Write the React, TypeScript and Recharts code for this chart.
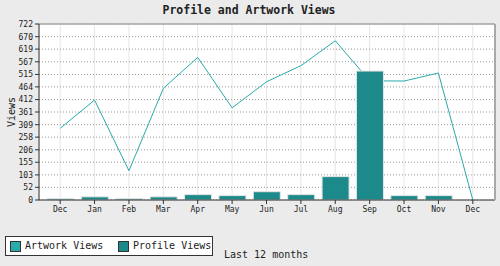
import React from 'react';
import { ComposedChart, Bar, Line, XAxis, YAxis, CartesianGrid, ReferenceLine } from 'recharts';

const months = ['Dec', 'Jan', 'Feb', 'Mar', 'Apr', 'May', 'Jun', 'Jul', 'Aug', 'Sep', 'Oct', 'Nov', 'Dec'];
const artworkViews = [294, 410, 120, 458, 585, 378, 485, 551, 653, 489, 488, 521, 0];
const profileViews = [5, 13, 5, 13, 22, 18, 34, 22, 96, 529, 18, 18, 0];
const yTicks = [0, 52, 103, 155, 206, 258, 309, 361, 412, 464, 515, 567, 619, 670, 722];

const data = months.map((m, i) => ({ key: `${m}-${i}`, month: m, artwork: artworkViews[i], profile: profileViews[i] }));

const FONT = '"DejaVu Sans Mono", monospace';
const LINE_COLOR = '#2aabab';
const BAR_COLOR = '#1c8a8a';

const LineAny = Line as any;
const BarAny = Bar as any;

export default function App() {
  return (
    <div style={{ position: 'absolute', left: 0, top: 0, width: 500, height: 266, background: '#ebebeb', fontFamily: FONT }}>
      <div style={{ position: 'absolute', left: 0, top: 3, width: 498, textAlign: 'center', fontWeight: 'bold', fontSize: 11.5, color: '#222' }}>
        Profile and Artwork Views
      </div>
      <ComposedChart width={500} height={266} data={data} margin={{ top: 24, right: 5, bottom: 36, left: 0 }}>
        <CartesianGrid horizontal={false} vertical={true} stroke="#e6e6e6" fill="#ffffff" />
        <CartesianGrid horizontal={true} vertical={false} stroke="#999999" strokeDasharray="1 2" />
        <XAxis
          dataKey="key"
          height={30}
          tickFormatter={(v: string) => v.split('-')[0]}
          padding={{ left: 4, right: 5 }}
          tick={{ fontSize: 8, fill: '#222', fontFamily: FONT }}
          tickSize={4}
          tickMargin={2}
          axisLine={{ stroke: '#333' }}
          tickLine={{ stroke: '#333' }}
          interval={0}
        />
        <YAxis
          width={39}
          domain={[0, 722]}
          ticks={yTicks}
          interval={0}
          tick={{ fontSize: 8, fill: '#222', fontFamily: FONT }}
          tickSize={4}
          tickMargin={2}
          axisLine={{ stroke: '#333' }}
          tickLine={{ stroke: '#333' }}
          label={{
            content: () => (
              <text x={15} y={112} transform="rotate(-90 15 112)" textAnchor="middle" fontSize={10} fontFamily={FONT} fill="#222">
                Views
              </text>
            ),
          }}
        />
        <ReferenceLine y={722} stroke="#a8a8a8" strokeWidth={1.5} />
        <LineAny type="linear" dataKey="artwork" stroke={LINE_COLOR} strokeWidth={1} dot={false} isAnimationActive={false} zIndex={250} />
        <BarAny dataKey="profile" barSize={27} fill={BAR_COLOR} stroke="#e4e4e4" strokeWidth={1} isAnimationActive={false} zIndex={350} />
      </ComposedChart>
      <div style={{ position: 'absolute', left: 494, top: 24, width: 2, height: 176, background: '#a8a8a8' }} />
      <div
        style={{
          position: 'absolute', left: 5, top: 236, width: 206, height: 18, border: '1px solid #333', background: '#fff',
          fontSize: 10, color: '#222', boxSizing: 'content-box',
        }}
      >
        <div style={{ position: 'absolute', left: 4, top: 4, width: 9, height: 9, border: '1px solid #333', background: LINE_COLOR }} />
        <div style={{ position: 'absolute', left: 19, top: 3, lineHeight: '12px', whiteSpace: 'nowrap' }}>Artwork Views</div>
        <div style={{ position: 'absolute', left: 112, top: 4, width: 9, height: 9, border: '1px solid #333', background: BAR_COLOR }} />
        <div style={{ position: 'absolute', left: 127, top: 3, lineHeight: '12px', whiteSpace: 'nowrap' }}>Profile Views</div>
      </div>
      <div style={{ position: 'absolute', left: 224, top: 249, fontSize: 10, color: '#222', lineHeight: '12px', whiteSpace: 'nowrap' }}>
        Last 12 months
      </div>
    </div>
  );
}
